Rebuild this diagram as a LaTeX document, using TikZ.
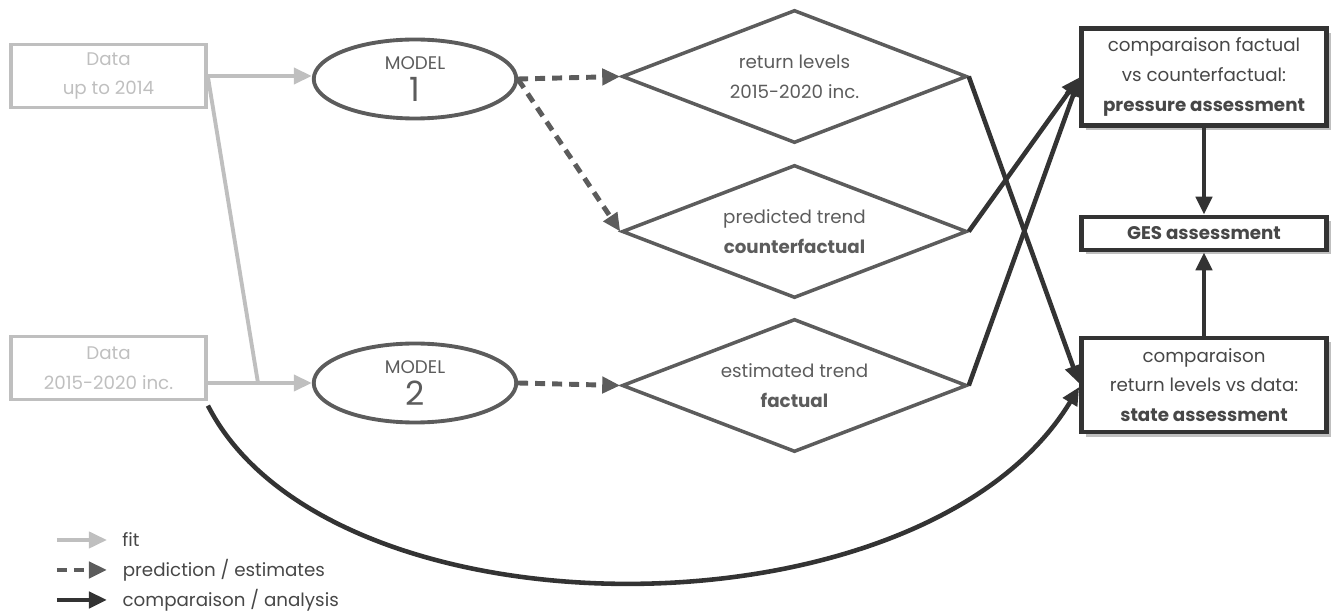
\documentclass[tikz,border=0pt]{standalone}
\usepackage{fontspec}
\setmainfont{Poppins}
\usetikzlibrary{arrows.meta,shapes.geometric,shadows}

\definecolor{fitgray}{HTML}{BFBFBF}
\definecolor{predgray}{HTML}{5C5C5C}
\definecolor{compgray}{HTML}{333333}

\begin{document}
\begin{tikzpicture}[scale=0.2,
  font=\fontsize{10.4pt}{17pt}\selectfont,
  databox/.style={draw=fitgray, line width=2.2pt, text=fitgray, align=center,
    minimum width=3.9cm, minimum height=1.26cm, inner sep=0pt},
  model/.style={ellipse, draw=predgray, line width=2.2pt, text=predgray, align=center,
    minimum width=4.05cm, minimum height=1.58cm, inner sep=0pt},
  result/.style={diamond, draw=predgray, line width=2pt, text=predgray, align=center,
    aspect=2.6, minimum width=6.9cm, minimum height=2.66cm, inner sep=0pt},
  assess/.style={draw=compgray, line width=2.6pt, text=compgray!90, align=center, fill=white,
    minimum width=4.9cm, inner sep=0pt,
    drop shadow={shadow xshift=0.09cm, shadow yshift=-0.09cm, fill=black!25, opacity=1}},
  fit/.style={draw=fitgray, line width=2.2pt, -{Triangle[length=0.36cm,width=0.32cm]}},
  pred/.style={draw=predgray, line width=2.8pt, dash pattern=on 0.2cm off 0.14cm,
    -{Triangle[length=0.36cm,width=0.32cm]}},
  comp/.style={draw=compgray, line width=2.6pt, -{Triangle[length=0.36cm,width=0.32cm]}}]
  \useasboundingbox (0,0) rectangle (133.6,-61.3);

  % inputs
  \node [databox] (d1) at (10.85,-7.6) {Data\\up to 2014};
  \node [databox] (d2) at (10.85,-36.8) {Data\\2015-2020 inc.};

  % models
  \node [model] (m1) at (41.5,-7.9) {MODEL\\[1pt]{\fontsize{19pt}{19pt}\selectfont 1}};
  \node [model] (m2) at (41.5,-38.3) {MODEL\\[1pt]{\fontsize{19pt}{19pt}\selectfont 2}};

  % outputs of the models
  \node [result] (rl) at (79.45,-7.65) {return levels\\2015-2020 inc.};
  \node [result] (pt) at (79.45,-23.15) {predicted trend\\\textbf{counterfactual}};
  \node [result] (et) at (79.45,-38.55) {estimated trend\\\textbf{factual}};

  % assessments
  \node [assess, minimum height=1.94cm] (pa) at (120.4,-7.7)
    {comparaison factual\\vs counterfactual:\\\textbf{pressure assessment}};
  \node [assess, minimum height=0.66cm] (ges) at (120.4,-23.35) {\textbf{GES assessment}};
  \node [assess, minimum height=1.88cm] (sa) at (120.4,-38.5)
    {comparaison\\return levels vs data:\\\textbf{state assessment}};

  % fit
  \coordinate (j) at (25.8,-38.3);
  \draw [fit] (d1.east) -- (m1.west |- d1.east);
  \draw [draw=fitgray, line width=2.2pt] ([yshift=-0.1cm]d1.east) -- (j);
  \draw [fit] (d2.east |- m2.west) -- (m2.west);

  % prediction
  \draw [pred] (m1.east) -- (rl.west);
  \draw [pred] ([yshift=-0.05cm]m1.east) -- (pt.west);
  \draw [pred] (m2.east) -- (et.west);

  % comparaison
  \draw [comp] (rl.east) -- ([yshift=0.15cm]sa.west);
  \draw [comp] (pt.east) -- ([yshift=-0.05cm]pa.west);
  \draw [comp] (et.east) -- ([yshift=-0.15cm]pa.west);
  \draw [comp] (pa.south) -- (ges.north);
  \draw [comp] (sa.north) -- (ges.south);
  \draw [comp] ([yshift=-0.42cm]d2.south east) .. controls (33,-64.4) and (92.4,-64.4) .. ([yshift=-0.2cm]sa.west);

  % legend
  \coordinate (l1) at (5.7,-54.0);
  \coordinate (l2) at (5.7,-57.0);
  \coordinate (l3) at (5.7,-60.0);
  \draw [fit] (l1) -- ++(5.0,0) node [right=0.15cm, text=compgray!90] (t1) {fit};
  \draw [pred] (l2) -- ++(5.0,0) node [right=0.15cm, text=compgray!90] (t2) {prediction / estimates};
  \draw [comp] (l3) -- ++(5.0,0) node [right=0.15cm, text=compgray!90] (t3) {comparaison / analysis};
\end{tikzpicture}
\end{document}
